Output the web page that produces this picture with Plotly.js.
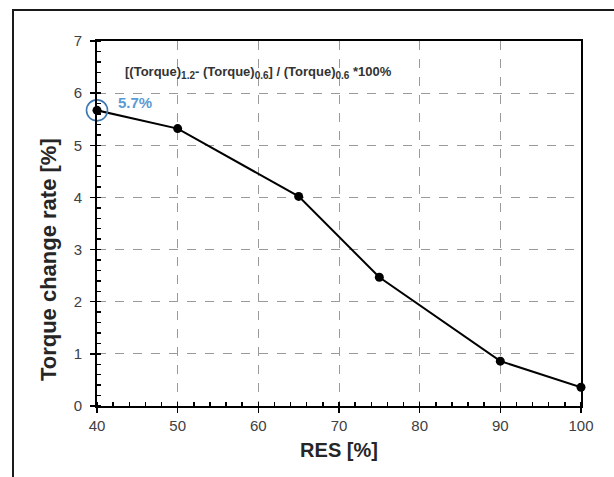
<!DOCTYPE html>
<html>
<head>
<meta charset="utf-8">
<script src="https://cdn.plot.ly/plotly-3.0.1.min.js"></script>
<style>
html,body{margin:0;padding:0;background:#fff;overflow:hidden;}
#wrap{position:relative;width:614px;height:477px;overflow:hidden;}
#ftop{position:absolute;left:12px;top:9px;width:620px;height:2px;background:#1a1a1a;}
#fleft{position:absolute;left:12px;top:9px;width:2px;height:480px;background:#1a1a1a;}
#chart{position:absolute;left:0;top:0;width:614px;height:477px;}
#rcover{position:absolute;left:600px;top:12px;width:20px;height:470px;background:#fff;z-index:10;}
</style>
</head>
<body>
<div id="wrap">
<div id="ftop"></div>
<div id="fleft"></div>
<div id="chart"></div>
<div id="rcover"></div>
</div>
<script>
// Data
const resPct = [40, 50, 65, 75, 90, 100];
const torqueChangeRate = [5.67, 5.32, 4.02, 2.47, 0.86, 0.36];
const highlightLabel = '5.7%';
const formulaText = '<b>[(Torque)<sub><span style="font-size:10px">1.2</span></sub>- (Torque)<sub><span style="font-size:10px">0.6</span></sub>] / (Torque)<sub><span style="font-size:10px">0.6</span></sub> *100%</b>';
const xTitle = 'RES [%]';
const yTitle = 'Torque change rate [%]';

const font = 'Liberation Sans, Arial, sans-serif';

const traces = [
  {
    x: resPct, y: torqueChangeRate, type: 'scatter', mode: 'lines+markers',
    line: {color: '#000', width: 2},
    marker: {color: '#000', size: 9, symbol: 'circle'},
    cliponaxis: false, showlegend: false, hoverinfo: 'skip'
  },
  {
    x: [resPct[0]], y: [torqueChangeRate[0]], type: 'scatter', mode: 'markers',
    marker: {symbol: 'circle-open', size: 21, color: '#3d78b0', line: {color: '#3d78b0', width: 1.6}},
    cliponaxis: false, showlegend: false, hoverinfo: 'skip'
  }
];

const axisCommon = {
  showline: true, linecolor: '#000', linewidth: 2, mirror: true,
  ticks: 'outside', ticklen: 5, tickwidth: 1.5, tickcolor: '#000',
  showgrid: true, gridcolor: '#9a9a9a', griddash: 'dash', gridwidth: 1,
  zeroline: false,
  tickfont: {family: font, size: 15, color: '#404040'}
};

const layout = {
  width: 614, height: 477,
  margin: {l: 97, r: 33, t: 41, b: 71},
  paper_bgcolor: 'rgba(0,0,0,0)', plot_bgcolor: '#fff',
  font: {family: font},
  xaxis: Object.assign({}, axisCommon, {
    range: [40, 100], dtick: 10, tick0: 40,
    minor: {ticks: 'inside', dtick: 2, ticklen: 4, tickwidth: 1.5, tickcolor: '#000', showgrid: false},
    title: {text: '<b>' + xTitle + '</b>', standoff: 10, font: {family: font, size: 20, color: '#262626'}}
  }),
  yaxis: Object.assign({}, axisCommon, {
    range: [0, 7], dtick: 1, tick0: 0,
    minor: {ticks: 'inside', dtick: 0.2, ticklen: 4, tickwidth: 1.5, tickcolor: '#000', showgrid: false},
    ticklabelstandoff: 5
  }),
  annotations: [
    {xref: 'paper', yref: 'paper', x: -0.101, y: 0.40, xanchor: 'center', yanchor: 'middle',
     textangle: -90, text: '<b>' + yTitle + '</b>', showarrow: false,
     font: {family: font, size: 22, color: '#262626'}},
    {xref: 'paper', yref: 'paper', x: 0.053, y: 0.913, xanchor: 'left', yanchor: 'middle',
     text: formulaText, showarrow: false, font: {family: font, size: 13, color: '#333'}},
    {xref: 'x', yref: 'y', x: resPct[0], y: torqueChangeRate[0], xanchor: 'left', yanchor: 'middle',
     xshift: 19, yshift: 8, text: '<b>' + highlightLabel + '</b>', showarrow: false,
     font: {family: font, size: 15, color: '#5b9bd5'}}
  ]
};

Plotly.newPlot('chart', traces, layout, {displayModeBar: false, staticPlot: true});
</script>
</body>
</html>
